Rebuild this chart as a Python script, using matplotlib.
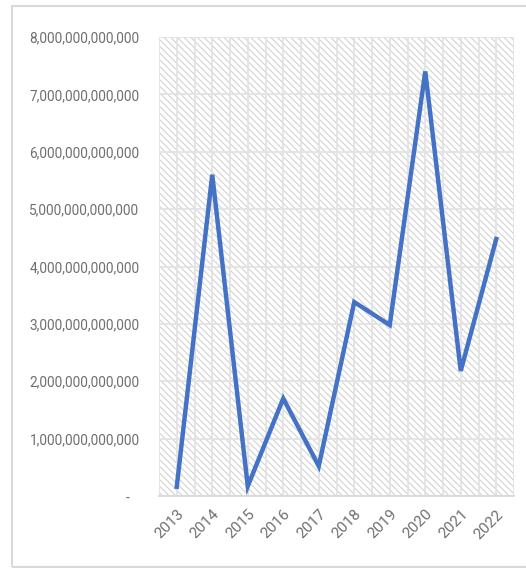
import matplotlib.pyplot as plt
import matplotlib.patches as mpatches
import numpy as np

plt.rcParams['font.family'] = ['Roboto', 'DejaVu Sans']
plt.rcParams['hatch.linewidth'] = 0.8
plt.rcParams['hatch.color'] = '#d3d3d3'

years = ['2013', '2014', '2015', '2016', '2017', '2018', '2019', '2020', '2021', '2022']
values = [0.16e12, 5.6e12, 0.17e12, 1.7e12, 0.52e12, 3.38e12, 2.98e12, 7.4e12, 2.18e12, 4.48e12]
yticks = [0, 1e12, 2e12, 3e12, 4e12, 5e12, 6e12, 7e12, 8e12]

fig = plt.figure(figsize=(5.26, 5.70), dpi=100)
ax = fig.add_axes([159 / 526, 1 - 496 / 570, (514 - 159) / 526, (496 - 37) / 570])

# chart border
fig.patches.append(mpatches.Rectangle((12 / 526, 3 / 570), 1.0, 561 / 570,
                                      transform=fig.transFigure, fill=False,
                                      edgecolor='#d9d9d9', linewidth=1.5))

# hatched plot area
ax.add_patch(mpatches.Rectangle((0, 0), 1, 1, transform=ax.transAxes,
                                facecolor='white', edgecolor='#d3d3d3',
                                hatch='\\\\\\\\\\', linewidth=0, zorder=0))

x = np.arange(len(years))
ax.plot(x, values, color='#4472C4', linewidth=3.2, solid_joinstyle='miter', zorder=3)

ax.set_xlim(-0.5, len(years) - 0.5)
ax.set_ylim(0, 8e12)
ax.set_xticks(x)
ax.set_xticklabels(years, rotation=45, ha='right', rotation_mode='anchor')
ax.set_xticks(np.arange(-0.5, len(years), 1), minor=True)
ax.set_yticks(yticks)
ax.set_yticklabels(['-   ' if v == 0 else f'{int(v):,}' for v in yticks])

ax.grid(True, which='both', axis='x', color='#e3e3e3', linewidth=1.3, zorder=1)
ax.grid(True, which='major', axis='y', color='#e3e3e3', linewidth=1.3, zorder=1)
ax.set_axisbelow(True)

for s in ['top', 'right', 'left']:
    ax.spines[s].set_visible(False)
ax.spines['bottom'].set_color('#d9d9d9')
ax.spines['bottom'].set_linewidth(1.3)

ax.tick_params(axis='both', which='both', length=0, colors='#6f6f6f')
ax.tick_params(axis='y', pad=14, labelsize=9.8)
ax.tick_params(axis='x', pad=8, labelsize=11)

fig.savefig('out.png', dpi=100)
